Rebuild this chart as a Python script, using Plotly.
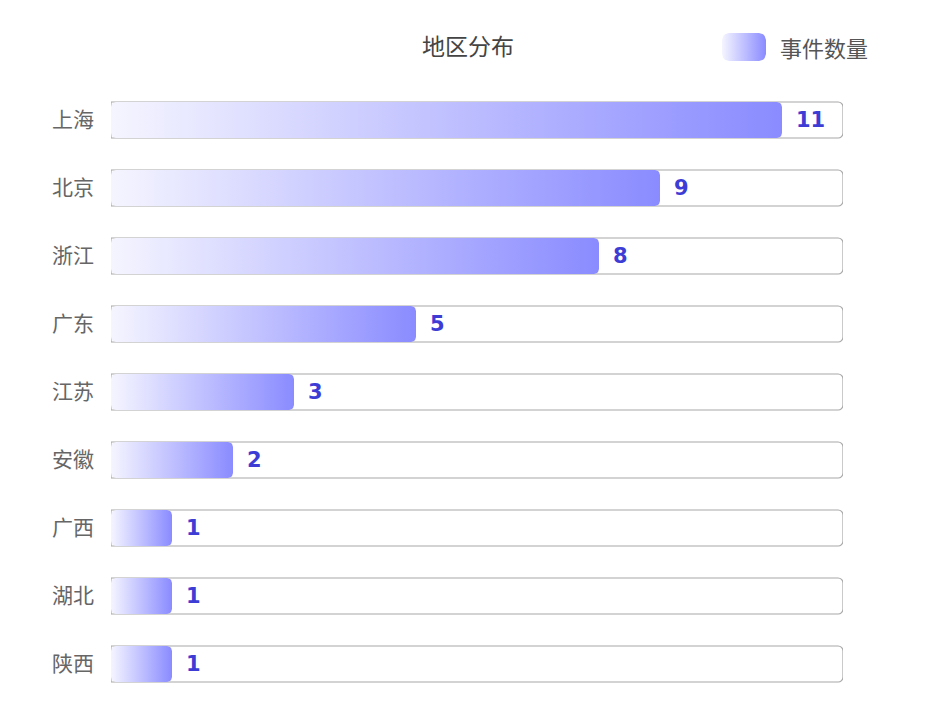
import numpy as np
import plotly.graph_objects as go

regions = ["上海", "北京", "浙江", "广东", "江苏", "安徽", "广西", "湖北", "陕西"]
counts = [11, 9, 8, 5, 3, 2, 1, 1, 1]
axis_max = 12
series_name = "事件数量"
title_text = "地区分布"

W, H = 937, 720
OFF = 8  # page body margin
# target plot box in screen pixels
PX0, PX1, PY0, PY1 = 111, 843, 86, 698
LEG_TOP = 20
ML = PX0 - OFF
MR = W - (PX1 - OFF)
MT = LEG_TOP - OFF
MB = H - (PY1 - OFF)
plot_w = PX1 - PX0
plot_h = PY1 - LEG_TOP
main_dom_top = (PY1 - PY0) / plot_h

px_per_x = plot_w / axis_max
px_per_y = (PY1 - PY0) / len(regions)
bar_w = 0.53

grad_scale = [[0, "#f5f5ff"], [1, "#8a8bff"]]


def paper_x(px):
    return (px - PX0) / plot_w


def paper_y(py):
    return (PY1 - py) / plot_h


def rounded_rect(x0, x1, y0, y1, rx, ry, n=6):
    xs, ys = [], []
    corners = [
        (x1 - rx, y0 + ry, -np.pi / 2, 0),
        (x1 - rx, y1 - ry, 0, np.pi / 2),
        (x0 + rx, y1 - ry, np.pi / 2, np.pi),
        (x0 + rx, y0 + ry, np.pi, 1.5 * np.pi),
    ]
    for cx, cy, a0, a1 in corners:
        for t in np.linspace(a0, a1, n):
            xs.append(cx + rx * np.cos(t))
            ys.append(cy + ry * np.sin(t))
    xs.append(xs[0]); ys.append(ys[0])
    return xs, ys


fig = go.Figure()
idx = list(range(len(regions)))

# background track
fig.add_trace(go.Bar(
    y=idx, x=[axis_max] * len(regions), orientation="h", width=bar_w,
    marker=dict(color="white", line=dict(width=0), cornerradius=5),
    hoverinfo="skip", showlegend=False))

# gradient bars
rx = 5 / px_per_x
ry = 5 / px_per_y
for i, v in zip(idx, counts):
    xs, ys = rounded_rect(0, v, i - bar_w / 2, i + bar_w / 2, rx, ry)
    fig.add_trace(go.Scatter(
        x=xs, y=ys, mode="lines", line=dict(width=0), fill="toself",
        fillgradient=dict(type="horizontal", colorscale=grad_scale),
        hoverinfo="skip", showlegend=False))

# track border on top
fig.add_trace(go.Bar(
    y=idx, x=[axis_max] * len(regions), orientation="h", width=bar_w,
    marker=dict(color="rgba(0,0,0,0)", line=dict(width=1.2, color="#a8a8a8"), cornerradius=5),
    hoverinfo="skip", showlegend=False))

# value labels
for i, v in zip(idx, counts):
    fig.add_annotation(x=v, y=i, text=str(v), showarrow=False, xanchor="left",
                       xshift=12, yanchor="middle",
                       font=dict(family="DejaVu Sans", size=21, color="#3d3dd6", weight="bold"))

# legend swatch on its own axes
sx, sy = rounded_rect(0, 1, 0, 1, 7 / 44, 7 / 28)
fig.add_trace(go.Scatter(
    x=sx, y=sy, xaxis="x2", yaxis="y2", mode="lines", line=dict(width=0),
    fill="toself", fillgradient=dict(type="horizontal", colorscale=grad_scale),
    hoverinfo="skip", showlegend=False))
fig.add_annotation(xref="paper", yref="paper", x=paper_x(778), y=paper_y(47),
                   text=series_name, showarrow=False, xanchor="left", yanchor="middle",
                   font=dict(family="Noto Sans CJK SC", size=22, color="#555555"))
fig.add_annotation(xref="paper", yref="paper", x=paper_x(468), y=paper_y(45),
                   text=title_text, showarrow=False, xanchor="center", yanchor="middle",
                   font=dict(family="Noto Sans CJK SC", size=23, color="#444444"))

fig.update_layout(
    width=W, height=H, margin=dict(l=ML, r=MR, t=MT, b=MB),
    paper_bgcolor="white", plot_bgcolor="white", barmode="overlay",
    showlegend=False,
    xaxis=dict(range=[0, axis_max], domain=[0, 1], showgrid=False, zeroline=False,
               showticklabels=False, showline=False, fixedrange=True),
    yaxis=dict(range=[len(regions) - 0.5, -0.5], domain=[0, main_dom_top],
               tickvals=idx, ticktext=regions, showgrid=False, zeroline=False,
               showline=False, ticks="", ticklabelstandoff=16,
               tickfont=dict(family="Noto Sans CJK SC", size=21, color="#666666")),
    xaxis2=dict(domain=[paper_x(722), paper_x(766)], anchor="y2", range=[0, 1],
                visible=False, fixedrange=True),
    yaxis2=dict(domain=[paper_y(61), paper_y(33)], anchor="x2", range=[0, 1],
                visible=False, fixedrange=True),
)

fig.write_html("out.html")
